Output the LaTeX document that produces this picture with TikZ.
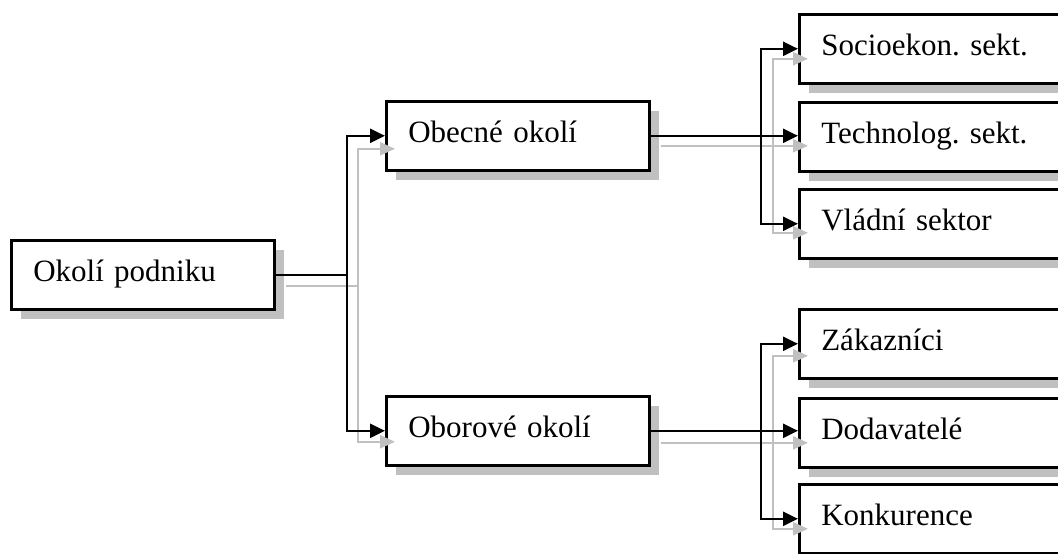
\documentclass[tikz,border=0pt]{standalone}
\usepackage{fontspec}
\setmainfont{Liberation Serif}
\usetikzlibrary{arrows.meta,shadows}
\definecolor{shadowgray}{RGB}{192,192,192}
\definecolor{linegray}{RGB}{192,192,192}
\frenchspacing
\begin{document}
\begin{tikzpicture}[x=1pt,y=-1pt,
  box/.style={draw=black, line width=2.6pt, fill=white, anchor=north west,
    inner xsep=22pt, inner ysep=0pt, minimum height=69pt,
    text width=#1, align=left, text height=21pt, text depth=7pt,
    font=\fontsize{31}{37}\selectfont,
    drop shadow={shadow xshift=10pt, shadow yshift=-10pt, fill=shadowgray, opacity=1}},
  blk/.style={draw=black, line width=2.3pt},
  gry/.style={draw=linegray, line width=2.3pt},
  tipb/.style={-{Triangle[length=15pt,width=14pt]}},
  tipg/.style={-{Triangle[length=15pt,width=13pt]}}]
\useasboundingbox (0,0) rectangle (1058,554);

% boxes
\node[box=219pt] (okoli)  at (10,239) {Okolí podniku};
\node[box=219pt] (obecne) at (385,100) {Obecné okolí};
\node[box=219pt] (obor)   at (385,395) {Oborové okolí};
\node[box=228pt] (socio)  at (798,13)  {Socioekon. sekt.};
\node[box=228pt] (techn)  at (798,101) {Technolog. sekt.};
\node[box=228pt] (vlad)   at (798,188) {Vládní sektor};
\node[box=228pt] (zak)    at (798,308) {Zákazníci};
\node[box=228pt] (dod)    at (798,397) {Dodavatelé};
\node[box=228pt] (konk)   at (798,483) {Konkurence};

% junction columns
\coordinate (jb1) at (347,0);
\coordinate (jg1) at (358,0);
\coordinate (jb2) at (761,0);
\coordinate (jg2) at (773,0);

% gray (shadow) connectors
\coordinate (gok) at ([shift={(10,11)}]okoli.east);
\coordinate (gobe) at ([shift={(10,13)}]obecne.west);
\coordinate (gobo) at ([shift={(10,11)}]obor.west);
\draw[gry] (gok) -- (gok -| jg1);
\draw[gry,tipg] (gok -| jg1) |- (gobe);
\draw[gry,tipg] (gok -| jg1) |- (gobo);

\coordinate (gobeE) at ([shift={(10,10)}]obecne.east);
\coordinate (gsoc) at ([shift={(10,10)}]socio.west);
\coordinate (gtec) at ([shift={(10,10)}]techn.west);
\coordinate (gvla) at ([shift={(10,9)}]vlad.west);
\draw[gry,tipg] (gobeE) -- (gobeE -| gtec);
\draw[gry,tipg] (gobeE -| jg2) |- (gsoc);
\draw[gry,tipg] (gobeE -| jg2) |- (gvla);

\coordinate (goboE) at ([shift={(10,12)}]obor.east);
\coordinate (gzak) at ([shift={(10,12)}]zak.west);
\coordinate (gdod) at ([shift={(10,11)}]dod.west);
\coordinate (gkon) at ([shift={(10,10)}]konk.west);
\draw[gry,tipg] (goboE) -- (goboE -| gdod);
\draw[gry,tipg] (goboE -| jg2) |- (gzak);
\draw[gry,tipg] (goboE -| jg2) |- (gkon);

% black connectors
\draw[blk] (okoli.east) -- (okoli.east -| jb1);
\draw[blk,tipb] (okoli.east -| jb1) |- (obecne.west);
\draw[blk,tipb] (okoli.east -| jb1) |- (obor.west);

\draw[blk,tipb] (obecne.east) -- (obecne.east -| techn.west);
\draw[blk,tipb] (obecne.east -| jb2) |- (socio.west);
\draw[blk,tipb] (obecne.east -| jb2) |- (vlad.west);

\draw[blk,tipb] (obor.east) -- (obor.east -| dod.west);
\draw[blk,tipb] (obor.east -| jb2) |- (zak.west);
\draw[blk,tipb] (obor.east -| jb2) |- (konk.west);
\end{tikzpicture}
\end{document}
